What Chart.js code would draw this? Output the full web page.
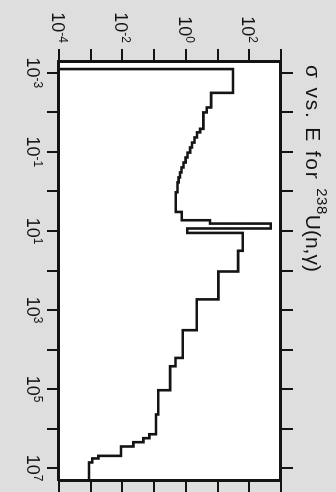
<!DOCTYPE html>
<html>
<head>
<meta charset="utf-8">
<script src="https://cdn.jsdelivr.net/npm/chart.js@4.4.1/dist/chart.umd.min.js"></script>
<style>
  html, body { margin: 0; padding: 0; background: #dedede; overflow: hidden; }
  /* the figure is printed turned a quarter turn clockwise */
  #wrap { position: absolute; left: 0; top: 0; width: 492px; height: 336px;
          transform-origin: 0 0; transform: translate(336px, 0) rotate(90deg); }
</style>
</head>
<body>
<div id="wrap"><canvas id="xsChart" width="492" height="336"></canvas></div>
<script>
// group boundaries in eV (last one closes the final group)
const binEdges = [8e-4, 3.2e-3, 7.5e-3, 1.0e-2, 2.6e-2, 3.2e-2, 4.3e-2, 5.8e-2, 7.7e-2,
  0.104, 0.138, 0.185, 0.247, 0.33, 0.44, 0.59, 1.05, 3.3, 5.35, 6.5, 8.65, 11.2,
  31.7, 106, 538, 3240, 1.63e4, 2.65e4, 1.07e5, 4.4e5, 1.39e6, 1.75e6, 2.21e6,
  2.84e6, 4.9e6, 5.7e6, 7.2e6, 2e7];
// group cross sections in barns
const sigma = [30.8, 6.24, 4.56, 3.56, 2.81, 2.25, 1.88, 1.57, 1.36, 1.13, 0.98,
  0.845, 0.73, 0.656, 0.59, 0.547, 0.48, 0.743, 5.8, 476, 1.11, 62.4, 44.4, 10.6,
  2.21, 0.80, 0.473, 0.318, 0.135, 0.115, 0.0706, 0.0456, 0.0221, 0.00904, 0.00174,
  0.00112, 0.000883];

const eDecades = [-3, -2, -1, 0, 1, 2, 3, 4, 5, 6, 7];
const sDecades = [-4, -3, -2, -1, 0, 1, 2, 3];
const eLabelExps = [-3, -1, 1, 3, 5, 7];
const sLabelExps = [-4, -2, 0, 2];
const titleParts = ["σ vs. E for ", "238", "U(n,γ)"];

const ink = "#141414";

// step line: rise from the bottom, one value per group, close at last edge
const pts = [{ x: binEdges[0], y: 1e-4 }];
sigma.forEach((s, i) => pts.push({ x: binEdges[i], y: s }));
pts.push({ x: binEdges[binEdges.length - 1], y: sigma[sigma.length - 1] });

function logAxis(pos, min, max, decades) {
  return {
    type: "logarithmic",
    position: pos,
    min, max,
    afterBuildTicks: scale => { scale.ticks = decades.map(e => ({ value: Math.pow(10, e) })); },
    ticks: { display: false },
    grid: { drawOnChartArea: false, drawTicks: true, tickLength: 12, lineWidth: 2, color: ink },
    border: { display: true, width: 3, color: ink }
  };
}

function drawPow(ctx, exp, x, base, align) {
  ctx.font = '18px "Liberation Sans", Arial, sans-serif';
  const w10 = ctx.measureText("10").width;
  ctx.font = '12px "Liberation Sans", Arial, sans-serif';
  const wExp = ctx.measureText(String(exp)).width;
  const total = w10 + wExp;
  const start = align === "center" ? x - total / 2 : x - total;
  ctx.font = '18px "Liberation Sans", Arial, sans-serif';
  ctx.fillText("10", start, base);
  ctx.font = '12px "Liberation Sans", Arial, sans-serif';
  ctx.fillText(String(exp), start + w10, base - 7);
}

const plotBg = {
  id: "plotBg",
  beforeDraw(chart) {
    const { ctx, chartArea: a } = chart;
    ctx.save();
    ctx.fillStyle = "#ffffff";
    ctx.fillRect(a.left, a.top, a.right - a.left, a.bottom - a.top);
    ctx.restore();
  }
};

const labels = {
  id: "labels",
  afterDraw(chart) {
    const { ctx, chartArea: a } = chart;
    const xs = chart.scales.x, ys = chart.scales.y;
    ctx.save();
    ctx.fillStyle = ink;
    ctx.textAlign = "left";
    ctx.textBaseline = "alphabetic";
    eLabelExps.forEach(e => drawPow(ctx, e, xs.getPixelForValue(Math.pow(10, e)), a.bottom + 32, "center"));
    sLabelExps.forEach(e => drawPow(ctx, e, a.left - 18, ys.getPixelForValue(Math.pow(10, e)) + 7, "right"));

    // title with raised mass number
    let tx = 65;
    const base = 30;
    ctx.font = '21px "Liberation Sans", Arial, sans-serif';
    ctx.letterSpacing = "1.8px";
    ctx.fillText(titleParts[0], tx, base);
    tx += ctx.measureText(titleParts[0]).width;
    ctx.font = '15px "Liberation Sans", Arial, sans-serif';
    ctx.letterSpacing = "0.5px";
    ctx.fillText(titleParts[1], tx, base - 11);
    tx += ctx.measureText(titleParts[1]).width;
    ctx.font = '21px "Liberation Sans", Arial, sans-serif';
    ctx.letterSpacing = "0px";
    ctx.fillText(titleParts[2], tx, base);
    ctx.restore();
  }
};

new Chart(document.getElementById("xsChart"), {
  type: "line",
  data: {
    datasets: [{
      data: pts,
      stepped: true,
      borderColor: ink,
      borderWidth: 2.6,
      pointRadius: 0,
      fill: false
    }]
  },
  options: {
    responsive: false,
    animation: false,
    layout: { padding: { left: 49, top: 43, right: 0, bottom: 47 } },
    plugins: { legend: { display: false }, tooltip: { enabled: false } },
    scales: {
      x: logAxis("bottom", 5e-4, 2e7, eDecades),
      x2: logAxis("top", 5e-4, 2e7, eDecades),
      y: logAxis("left", 1e-4, 1e3, sDecades),
      y2: logAxis("right", 1e-4, 1e3, sDecades)
    }
  },
  plugins: [plotBg, labels]
});
</script>
</body>
</html>
